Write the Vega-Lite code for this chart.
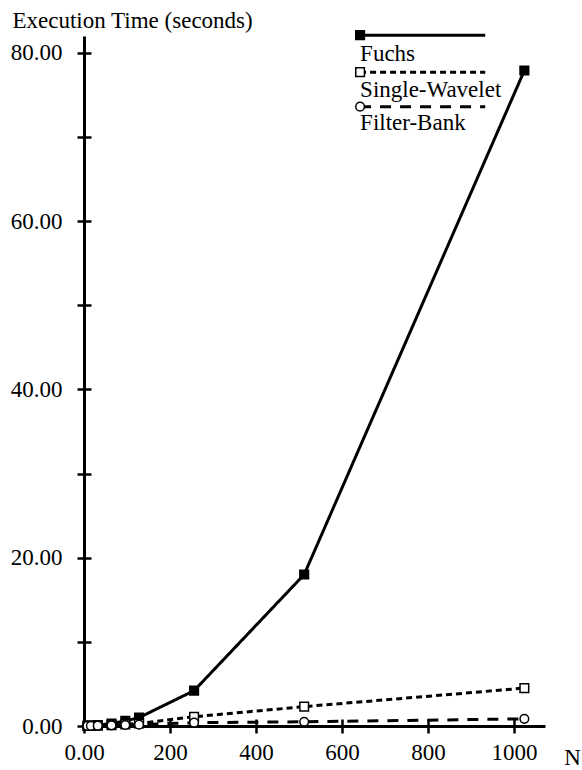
{
  "$schema": "https://vega.github.io/schema/vega-lite/v6.json",
  "width": 461,
  "height": 690,
  "autosize": {"type": "none"},
  "padding": {"left": 84, "top": 36, "right": 37, "bottom": 44},
  "background": "white",
  "config": {
    "view": {"stroke": null},
    "axis": {
      "grid": false,
      "labelFont": "'Liberation Serif', 'DejaVu Serif', serif",
      "titleFont": "'Liberation Serif', 'DejaVu Serif', serif",
      "labelFontSize": 23,
      "titleFontSize": 23,
      "labelColor": "black",
      "titleColor": "black",
      "titleFontWeight": "normal",
      "domainColor": "black",
      "tickColor": "black",
      "domainWidth": 3,
      "tickWidth": 2.5
    },
    "text": {"font": "'Liberation Serif', 'DejaVu Serif', serif", "fontSize": 23}
  },
  "datasets": {
    "main": [
      {"series": "Fuchs", "N": 8, "time": 0.02},
      {"series": "Fuchs", "N": 16, "time": 0.05},
      {"series": "Fuchs", "N": 32, "time": 0.1},
      {"series": "Fuchs", "N": 64, "time": 0.3},
      {"series": "Fuchs", "N": 96, "time": 0.6},
      {"series": "Fuchs", "N": 128, "time": 1.0},
      {"series": "Fuchs", "N": 256, "time": 4.2},
      {"series": "Fuchs", "N": 512, "time": 18.0},
      {"series": "Fuchs", "N": 1024, "time": 77.9},
      {"series": "Single-Wavelet", "N": 8, "time": 0.01},
      {"series": "Single-Wavelet", "N": 16, "time": 0.02},
      {"series": "Single-Wavelet", "N": 32, "time": 0.05},
      {"series": "Single-Wavelet", "N": 64, "time": 0.1},
      {"series": "Single-Wavelet", "N": 96, "time": 0.2},
      {"series": "Single-Wavelet", "N": 128, "time": 0.3},
      {"series": "Single-Wavelet", "N": 256, "time": 1.1},
      {"series": "Single-Wavelet", "N": 512, "time": 2.3},
      {"series": "Single-Wavelet", "N": 1024, "time": 4.5},
      {"series": "Filter-Bank", "N": 8, "time": 0.01},
      {"series": "Filter-Bank", "N": 16, "time": 0.02},
      {"series": "Filter-Bank", "N": 32, "time": 0.04},
      {"series": "Filter-Bank", "N": 64, "time": 0.08},
      {"series": "Filter-Bank", "N": 96, "time": 0.12},
      {"series": "Filter-Bank", "N": 128, "time": 0.16},
      {"series": "Filter-Bank", "N": 256, "time": 0.4},
      {"series": "Filter-Bank", "N": 512, "time": 0.5},
      {"series": "Filter-Bank", "N": 1024, "time": 0.85}
    ],
    "legend": [
      {"series": "Fuchs", "x": 642, "x2": 933, "y": 82.1, "ty": 79.0},
      {"series": "Single-Wavelet", "x": 642, "x2": 933, "y": 77.7, "ty": 74.7},
      {"series": "Filter-Bank", "x": 642, "x2": 933, "y": 73.6, "ty": 70.8}
    ]
  },
  "resolve": {"axis": {"x": "independent", "y": "independent"}},
  "layer": [
    {
      "data": {"name": "main"},
      "mark": {"type": "line", "strokeWidth": 3, "color": "black"},
      "encoding": {
        "x": {
          "field": "N", "type": "quantitative",
          "scale": {"domain": [0, 1072], "nice": false, "zero": false},
          "axis": {
            "orient": "bottom",
            "values": [0, 200, 400, 600, 800, 1000],
            "format": "d",
            "labelExpr": "datum.value === 0 ? '0.00' : datum.label",
            "tickSize": 7,
            "labelPadding": 8,
            "labelFlush": false,
            "labelOverlap": false,
            "title": "N",
            "titleX": 488,
            "titleY": 31,
            "titleAlign": "center",
            "titleBaseline": "middle"
          }
        },
        "y": {
          "field": "time", "type": "quantitative",
          "scale": {"domain": [0, 82], "nice": false},
          "axis": {
            "orient": "left",
            "values": [0, 10, 20, 30, 40, 50, 60, 70, 80],
            "labelExpr": "datum.value % 20 === 0 ? format(datum.value, '.2f') : ''",
            "tickSize": 7,
            "labelPadding": 15,
            "labelFlush": false,
            "labelOverlap": false,
            "title": "Execution Time (seconds)",
            "titleAngle": 0,
            "titleX": -72,
            "titleY": -16,
            "titleAlign": "left",
            "titleBaseline": "middle"
          }
        },
        "strokeDash": {
          "field": "series", "type": "nominal",
          "scale": {"domain": ["Fuchs", "Single-Wavelet", "Filter-Bank"], "range": [[1, 0], [6, 4], [11, 9]]},
          "legend": null
        }
      }
    },
    {
      "data": {"name": "main"},
      "mark": {"type": "point", "size": 75, "strokeWidth": 1.5, "opacity": 1, "stroke": "black"},
      "encoding": {
        "x": {
          "field": "N", "type": "quantitative",
          "axis": {"orient": "bottom", "values": [0, 200, 400, 600, 800, 1000], "labels": false, "domain": false, "tickSize": -7, "title": null}
        },
        "y": {
          "field": "time", "type": "quantitative",
          "axis": {"orient": "left", "values": [0, 10, 20, 30, 40, 50, 60, 70, 80], "labels": false, "domain": false, "tickSize": -7, "title": null}
        },
        "shape": {
          "field": "series", "type": "nominal",
          "scale": {"domain": ["Fuchs", "Single-Wavelet", "Filter-Bank"], "range": ["square", "square", "circle"]},
          "legend": null
        },
        "fill": {
          "field": "series", "type": "nominal",
          "scale": {"domain": ["Fuchs", "Single-Wavelet", "Filter-Bank"], "range": ["black", "white", "white"]},
          "legend": null
        }
      }
    },
    {
      "data": {"name": "legend"},
      "mark": {"type": "rule", "strokeWidth": 3, "color": "black"},
      "encoding": {
        "x": {"field": "x", "type": "quantitative", "axis": null},
        "x2": {"field": "x2"},
        "y": {"field": "y", "type": "quantitative", "axis": null},
        "strokeDash": {
          "field": "series", "type": "nominal",
          "scale": {"domain": ["Fuchs", "Single-Wavelet", "Filter-Bank"], "range": [[1, 0], [6, 4], [11, 9]]},
          "legend": null
        }
      }
    },
    {
      "data": {"name": "legend"},
      "mark": {"type": "point", "size": 75, "strokeWidth": 1.5, "opacity": 1, "stroke": "black"},
      "encoding": {
        "x": {"field": "x", "type": "quantitative", "axis": null},
        "y": {"field": "y", "type": "quantitative", "axis": null},
        "shape": {
          "field": "series", "type": "nominal",
          "scale": {"domain": ["Fuchs", "Single-Wavelet", "Filter-Bank"], "range": ["square", "square", "circle"]},
          "legend": null
        },
        "fill": {
          "field": "series", "type": "nominal",
          "scale": {"domain": ["Fuchs", "Single-Wavelet", "Filter-Bank"], "range": ["black", "white", "white"]},
          "legend": null
        }
      }
    },
    {
      "data": {"name": "legend"},
      "mark": {"type": "text", "align": "left", "baseline": "alphabetic", "color": "black"},
      "encoding": {
        "x": {"field": "x", "type": "quantitative", "axis": null},
        "y": {"field": "ty", "type": "quantitative", "axis": null},
        "text": {"field": "series"}
      }
    }
  ]
}
